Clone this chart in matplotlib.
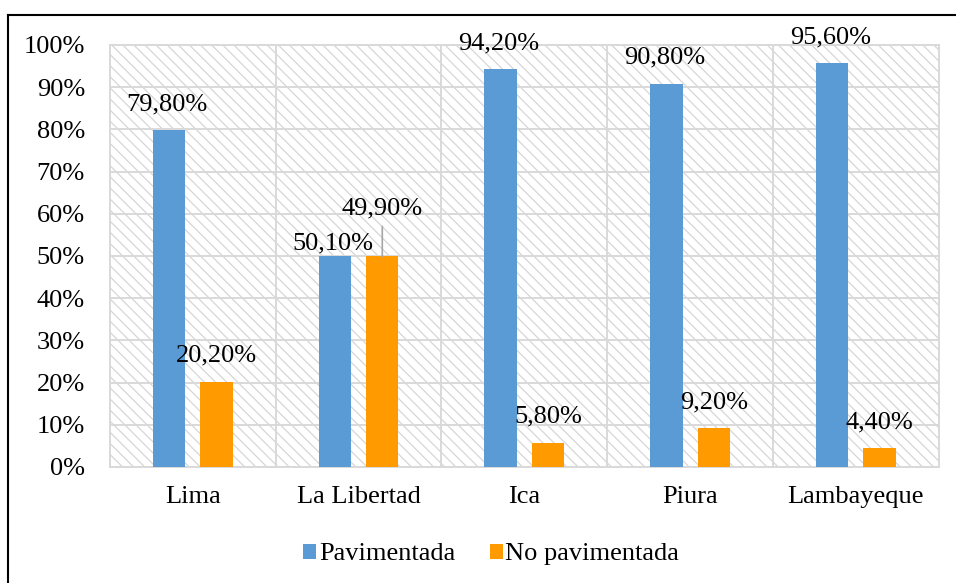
import numpy as np
import matplotlib
matplotlib.use("Agg")
import matplotlib.pyplot as plt
from matplotlib.patches import Rectangle
from matplotlib.lines import Line2D

plt.rcParams['font.family'] = 'serif'
plt.rcParams['font.serif'] = ['Liberation Serif', 'DejaVu Serif']
plt.rcParams['hatch.linewidth'] = 0.9

regiones = ['Lima', 'La Libertad', 'Ica', 'Piura', 'Lambayeque']
pavimentada = [79.8, 50.1, 94.2, 90.8, 95.6]
no_pavimentada = [20.2, 49.9, 5.8, 9.2, 4.4]
etiquetas_pav = ['79,80%', '50,10%', '94,20%', '90,80%', '95,60%']
etiquetas_nopav = ['20,20%', '49,90%', '5,80%', '9,20%', '4,40%']

azul = '#5B9BD5'
naranja = '#FF9A00'
gris = '#d9d9d9'
fs = 19

fig = plt.figure(figsize=(9.56, 5.83), dpi=100)
ax = fig.add_axes([0.115, 0.199, 0.867, 0.724])

# fondo rayado
fondo = Rectangle((0, 0), 1, 1, transform=ax.transAxes, facecolor='white',
                  edgecolor='#d6d6d6', hatch='\\\\\\', lw=0, zorder=0)
ax.add_patch(fondo)

x = np.arange(len(regiones))
w = 0.195
off = 0.143
ax.bar(x - off, pavimentada, w, color=azul, label='Pavimentada', zorder=3)
ax.bar(x + off, no_pavimentada, w, color=naranja, label='No pavimentada', zorder=3)

ax.set_ylim(0, 100)
ax.set_xlim(-0.5, len(regiones) - 0.5)
ax.set_yticks(np.arange(0, 101, 10))
ax.set_yticklabels([f'{v}%' for v in range(0, 101, 10)], fontsize=fs)
ax.set_xticks(x)
ax.set_xticklabels(regiones, fontsize=fs)
ax.set_xticks(np.arange(0.5, len(regiones) - 0.5, 1), minor=True)
ax.tick_params(axis='both', which='both', length=0)
ax.tick_params(axis='y', pad=18)
ax.tick_params(axis='x', pad=14)
ax.grid(axis='y', color=gris, lw=1.4, zorder=1)
ax.grid(axis='x', which='minor', color=gris, lw=1.4, zorder=1)
for s in ax.spines.values():
    s.set_color(gris)
    s.set_linewidth(1.4)

# etiquetas de datos
desp_pav = [26, 12, 26, 26, 26]
desp_nopav = [26, 48, 26, 26, 26]
for i in range(len(regiones)):
    ax.annotate(etiquetas_pav[i], (x[i] - off, pavimentada[i]), xytext=(-2, desp_pav[i]),
                textcoords='offset pixels', ha='center', va='center', fontsize=fs, zorder=5)
    ax.annotate(etiquetas_nopav[i], (x[i] + off, no_pavimentada[i]), xytext=(0, desp_nopav[i]),
                textcoords='offset pixels', ha='center', va='center', fontsize=fs, zorder=5)

# linea guia de 49,90%
ax.annotate('', (x[1] + off, no_pavimentada[1]), xytext=(0, 30), textcoords='offset pixels',
            arrowprops=dict(arrowstyle='-', color='#a6a6a6', lw=1.2, shrinkA=0, shrinkB=0))

ax.legend(loc='upper center', bbox_to_anchor=(0.46, -0.125), ncol=2, frameon=False,
          fontsize=fs, handlelength=0.5, handleheight=0.5, handletextpad=0.1,
          columnspacing=1.3)

# marco
fig.add_artist(Line2D([8 / 956, 8 / 956], [1 - 15 / 583, 0], transform=fig.transFigure,
                      color='black', lw=1.5))
fig.add_artist(Line2D([8 / 956, 1], [1 - 15 / 583, 1 - 15 / 583], transform=fig.transFigure,
                      color='black', lw=1.5))

fig.savefig('out.png', dpi=100)
